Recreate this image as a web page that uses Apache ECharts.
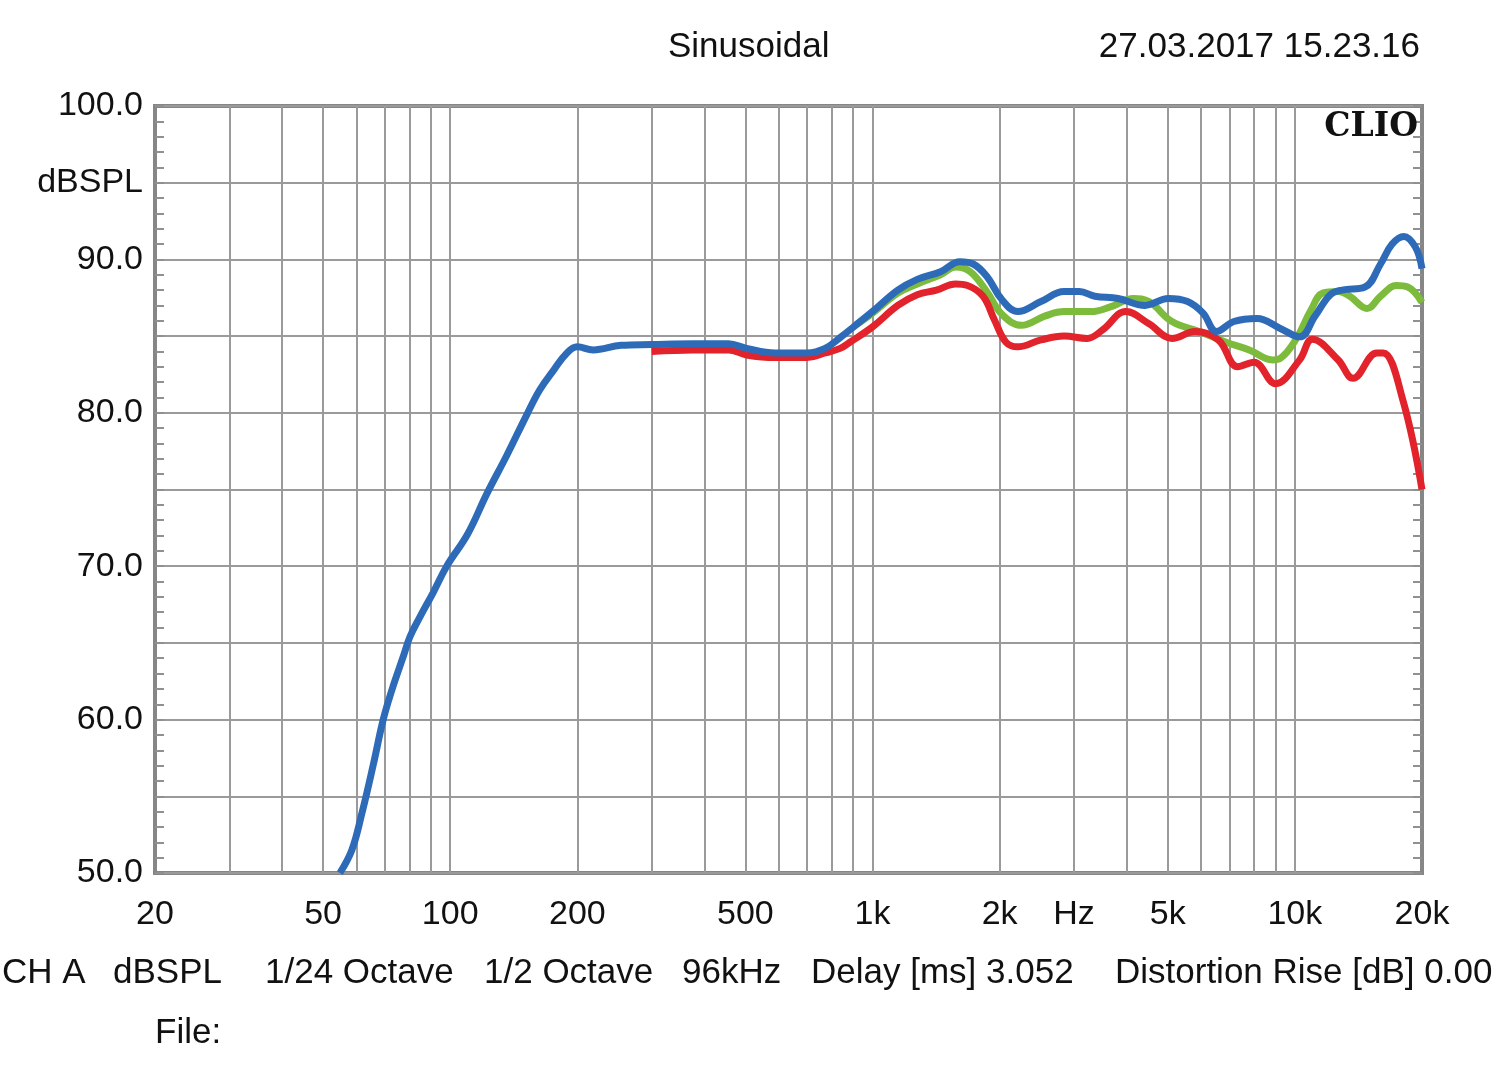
<!DOCTYPE html>
<html>
<head>
<meta charset="utf-8">
<title>CLIO Sinusoidal</title>
<script src="https://cdn.jsdelivr.net/npm/echarts@6/dist/echarts.min.js"></script>
<style>
  html, body { margin: 0; padding: 0; background: #fff; }
  #main { width: 1500px; height: 1074px; }
</style>
</head>
<body>
<div id="main"></div>
<script>
// frequency response readings (Hz, dBSPL)
var blueFreq = [54.8, 58.5, 61.8, 65.8, 69.4, 72.7, 77.4, 80.3, 84.8, 91.2, 98.1, 110, 122, 136, 152, 163, 176, 189, 200, 218, 254, 300, 376, 456, 503, 588, 700, 772, 838, 911, 1000, 1148, 1276, 1449, 1609, 1731, 1864, 2028, 2206, 2504, 2841, 3090, 3362, 3814, 4416, 5014, 5572, 6061, 6524, 7170, 8138, 9236, 10264, 11160, 12134, 12936, 14656, 15954, 16996, 18114, 19296, 20000];
var blueDb   = [50.0, 51.5, 53.9, 57.1, 60.0, 61.9, 64.1, 65.4, 66.7, 68.3, 70.0, 72.1, 74.7, 77.2, 79.9, 81.5, 82.8, 83.9, 84.3, 84.1, 84.4, 84.45, 84.5, 84.5, 84.2, 83.9, 83.9, 84.2, 84.9, 85.7, 86.6, 88.0, 88.7, 89.2, 89.85, 89.7, 88.9, 87.35, 86.6, 87.25, 87.9, 87.9, 87.6, 87.45, 87.0, 87.45, 87.25, 86.5, 85.3, 85.95, 86.15, 85.5, 84.95, 86.3, 87.7, 88.0, 88.2, 89.7, 91.0, 91.5, 90.8, 89.4];

var greenFreq = [900, 1000, 1148, 1276, 1449, 1574, 1704, 1864, 2028, 2253, 2557, 2841, 3292, 3656, 4150, 4514, 5118, 5930, 6876, 7800, 8852, 9236, 10040, 10920, 11640, 12658, 13490, 14826, 15954, 17396, 18506, 20000];
var greenDb   = [85.6, 86.5, 87.8, 88.4, 89.0, 89.5, 89.2, 87.9, 86.4, 85.7, 86.3, 86.6, 86.6, 86.9, 87.45, 87.25, 85.95, 85.3, 84.6, 84.1, 83.45, 83.55, 84.75, 86.7, 87.8, 87.9, 87.6, 86.8, 87.6, 88.3, 88.2, 87.2];

var redFreq = [300, 376, 456, 503, 588, 700, 772, 838, 884, 1000, 1148, 1276, 1417, 1574, 1678, 1826, 1944, 2070, 2206, 2504, 2841, 3220, 3506, 3978, 4514, 5118, 5800, 6592, 7324, 8000, 9000, 10264, 11000, 12658, 13730, 15630, 16180, 18030, 20000];
var redDb   = [84.0, 84.1, 84.1, 83.77, 83.6, 83.6, 83.9, 84.2, 84.6, 85.6, 87.0, 87.7, 88.0, 88.4, 88.3, 87.6, 86.05, 84.6, 84.3, 84.75, 85.0, 84.85, 85.4, 86.6, 85.8, 84.85, 85.3, 84.75, 83.0, 83.3, 81.9, 83.45, 84.8, 83.45, 82.25, 83.9, 83.9, 80.8, 75.0];

// vertical grid lines and frequency tick labels
var gridFreqs = [30, 40, 50, 60, 70, 80, 90, 100, 200, 300, 400, 500, 600, 700, 800, 900, 1000, 2000, 3000, 4000, 5000, 6000, 7000, 8000, 9000, 10000];
var tickFreqs = [20, 50, 100, 200, 500, 1000, 2000, 3000, 5000, 10000, 20000];
var tickTexts = ['20', '50', '100', '200', '500', '1k', '2k', 'Hz', '5k', '10k', '20k'];

var FONT = 'Liberation Sans';

function pairs(xs, ys) {
  return xs.map(function (x, i) { return [x, ys[i]]; });
}

var myChart = echarts.init(document.getElementById('main'));

var textStyle = { color: '#111', fontSize: 35, fontWeight: 'normal', fontFamily: FONT };

function label(text, pos) {
  var t = { text: text, padding: 0, textStyle: textStyle };
  for (var k in pos) t[k] = pos[k];
  return t;
}

var option = {
  animation: false,
  backgroundColor: '#fff',
  title: [
    label('Sinusoidal', { left: 668, top: 30 }),
    label('27.03.2017 15.23.16', { right: 80, top: 30 }),
    { text: 'CLIO', right: 82, top: 111, padding: 0, textStyle: { color: '#111', fontSize: 33, fontWeight: 'bold', fontFamily: 'DejaVu Serif' } },
    label('CH A', { left: 2, top: 956 }),
    label('dBSPL', { left: 113, top: 956 }),
    label('1/24 Octave', { left: 265, top: 956 }),
    label('1/2 Octave', { left: 484, top: 956 }),
    label('96kHz', { left: 682, top: 956 }),
    label('Delay [ms] 3.052', { left: 811, top: 956 }),
    label('Distortion Rise [dB] 0.00', { left: 1115, top: 956 }),
    label('File:', { left: 155, top: 1016 })
  ],
  grid: {
    left: 155, right: 78, top: 106, bottom: 201,
    show: true, borderColor: '#868686', borderWidth: 4, backgroundColor: 'transparent'
  },
  xAxis: {
    type: 'log', logBase: 10, min: 20, max: 20000,
    axisLine: { show: false }, axisTick: { show: false },
    axisLabel: { show: false }, splitLine: { show: false }
  },
  yAxis: [
    {
      type: 'value', min: 50, max: 100, interval: 5, position: 'left',
      axisLine: { show: false },
      axisTick: { show: true, inside: true, length: 9, lineStyle: { color: '#909090', width: 2 } },
      minorTick: { show: true, splitNumber: 5, length: 9, lineStyle: { color: '#909090', width: 2 } },
      axisLabel: {
        margin: 12, color: '#111', fontSize: 34, fontFamily: FONT,
        formatter: function (v) {
          if (v === 95) return 'dBSPL';
          return v % 10 === 0 ? v.toFixed(1) : '';
        }
      },
      splitLine: { show: true, lineStyle: { color: '#9a9a9a', width: 2 } }
    },
    {
      type: 'value', min: 50, max: 100, interval: 5, position: 'right',
      axisLine: { show: false },
      axisTick: { show: true, inside: true, length: 9, lineStyle: { color: '#909090', width: 2 } },
      minorTick: { show: true, splitNumber: 5, length: 9, lineStyle: { color: '#909090', width: 2 } },
      axisLabel: { show: false },
      splitLine: { show: false }
    }
  ],
  series: [
    {
      name: 'green', type: 'line', z: 3, smooth: 0.4, symbol: 'none',
      lineStyle: { color: '#7cbb3c', width: 7 },
      data: pairs(greenFreq, greenDb),
      markLine: {
        silent: true, symbol: 'none', z: 1, animation: false,
        lineStyle: { color: '#9a9a9a', width: 2, type: 'solid' },
        label: { show: false },
        data: gridFreqs.map(function (f) { return { xAxis: f }; })
      }
    },
    {
      name: 'red', type: 'line', z: 4, smooth: 0.4, symbol: 'none',
      lineStyle: { color: '#e2232b', width: 7 },
      data: pairs(redFreq, redDb),
      markLine: {
        silent: true, symbol: 'none', z: 1, animation: false,
        lineStyle: { color: 'rgba(0,0,0,0)', width: 1, type: 'solid' },
        label: { show: true, position: 'start', distance: 25, color: '#111', fontSize: 34, fontFamily: FONT },
        data: tickFreqs.map(function (f, i) {
          return { xAxis: f, label: { formatter: tickTexts[i] } };
        })
      }
    },
    {
      name: 'blue', type: 'line', z: 5, smooth: 0.4, symbol: 'none',
      lineStyle: { color: '#2d6bb9', width: 7 },
      data: pairs(blueFreq, blueDb)
    }
  ]
};

myChart.setOption(option);
</script>
</body>
</html>
